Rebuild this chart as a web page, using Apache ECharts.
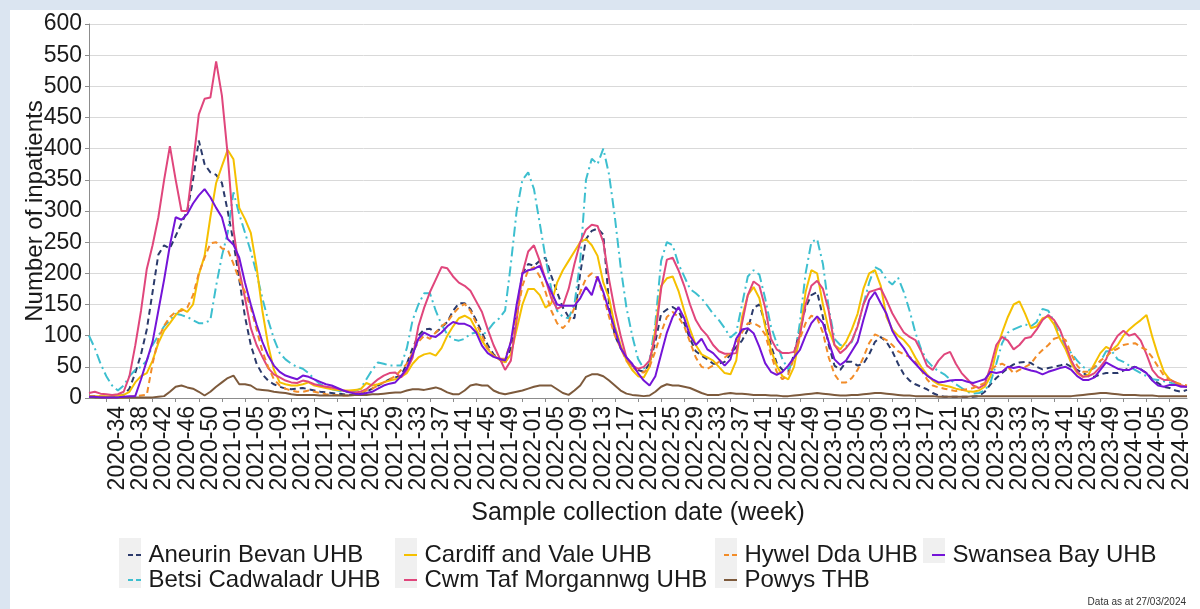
<!DOCTYPE html>
<html><head><meta charset="utf-8">
<script src="https://cdn.jsdelivr.net/npm/echarts@6/dist/echarts.min.js"></script>
<style>
html,body{margin:0;padding:0;background:#dbe5f1;width:1200px;height:609px;overflow:hidden}
#c{position:absolute;left:10px;top:10px;width:1190px;height:599px;background:#fff}
</style>
</head><body><div id="c"></div>
<script>
// ISO week categories: 2020-31 .. 2024-12
const weekRanges = [[2020,31,53],[2021,1,52],[2022,1,52],[2023,1,52],[2024,1,12]];
const weeks = [];
weekRanges.forEach(([y,a,b]) => { for (let w = a; w <= b; w++) weeks.push(y + '-' + String(w).padStart(2,'0')); });
const firstLabelIndex = 3;   // 2020-34
const labelEvery = 4;

const seriesNames = ['Aneurin Bevan UHB','Betsi Cadwaladr UHB','Cardiff and Vale UHB','Cwm Taf Morgannwg UHB','Hywel Dda UHB','Powys THB','Swansea Bay UHB'];

const aneurinBevan = [
 3,3,2,2,2,3,5,15,40,70,
 110,170,230,245,240,260,280,300,350,413,
 375,362,358,345,300,250,190,130,85,55,
 38,28,22,18,15,14,15,16,14,12,
 10,9,8,7,6,5,5,7,10,15,
 20,25,30,33,36,55,80,100,110,111,
 105,113,122,140,152,152,143,125,105,85,
 70,62,55,80,140,200,215,212,220,225,
 196,170,145,130,128,200,255,268,272,262,
 150,100,80,65,52,45,42,55,90,135,
 142,146,140,120,95,75,68,62,55,55,
 58,70,82,92,110,145,150,120,85,56,
 45,42,70,110,145,165,170,130,85,52,
 45,58,58,52,55,70,90,98,90,75,
 55,38,28,22,18,14,8,4,2,2,
 2,2,2,2,3,10,22,32,40,48,
 54,57,58,56,50,46,48,50,52,55,
 50,45,40,35,34,38,40,40,40,44,
 48,50,46,40,30,24,18,16,12,10,13];

const betsiCadwaladr = [
 100,80,55,35,20,12,20,35,45,50,
 60,85,100,115,125,135,133,130,125,120,
 120,125,180,228,265,330,295,265,235,200,
 160,125,95,72,62,55,50,47,40,30,
 22,18,14,12,10,9,11,15,30,45,
 57,55,52,52,52,80,125,150,168,168,
 140,118,102,94,92,95,103,105,100,108,
 120,128,140,215,300,350,362,335,280,225,
 175,140,130,128,150,220,350,384,375,400,
 358,290,210,145,100,63,47,60,120,220,
 250,245,215,195,175,168,160,148,135,125,
 112,97,105,150,195,205,198,160,115,88,
 62,46,60,120,200,250,255,215,145,95,
 85,83,90,115,150,185,210,205,190,182,
 193,170,140,105,78,60,50,43,38,30,
 22,16,10,7,8,12,25,55,88,105,
 110,114,118,115,122,143,140,122,100,82,
 72,60,50,45,48,58,75,75,62,58,
 52,45,40,35,30,29,27,25,22,20,18];

const cardiffVale = [
 3,3,3,3,3,4,5,10,25,35,
 40,60,88,108,120,133,143,138,150,198,
 228,290,345,372,398,383,305,287,265,210,
 140,85,45,25,22,20,20,22,25,20,
 18,16,14,13,12,12,13,14,24,20,
 22,25,28,30,34,40,55,65,70,72,
 68,80,100,115,128,132,127,110,92,78,
 68,62,57,70,110,150,175,175,165,145,
 152,185,205,220,235,250,255,245,228,185,
 160,115,85,60,45,35,33,50,110,180,
 192,195,172,140,110,85,70,65,60,50,
 40,38,60,130,165,178,160,115,77,52,
 35,30,50,100,170,205,200,150,110,85,
 78,90,110,135,175,200,205,180,130,110,
 100,93,82,65,50,38,28,22,20,18,
 15,13,11,10,12,18,35,75,105,130,
 150,155,135,112,115,128,131,118,95,78,
 55,40,34,38,55,72,82,77,85,100,
 110,118,125,133,98,68,42,30,25,20,18];

const cwmTaf = [
 8,10,7,6,5,6,10,35,84,140,
 207,245,290,350,404,350,300,300,375,455,
 480,482,540,485,390,270,205,160,112,85,
 66,48,38,33,28,25,24,28,26,22,
 20,18,17,15,12,10,9,10,14,22,
 30,36,40,41,33,45,65,115,145,170,
 190,210,208,195,185,180,172,155,138,110,
 85,65,45,60,125,200,235,245,220,190,
 160,143,148,175,215,250,270,278,276,250,
 190,140,100,65,52,47,50,60,100,175,
 222,225,205,180,150,125,110,100,85,75,
 71,71,72,120,165,187,180,145,95,78,
 72,72,74,100,150,180,188,175,140,85,
 72,80,92,115,150,170,173,176,157,136,
 120,105,98,93,75,52,45,60,70,74,
 55,40,30,20,16,22,50,85,98,92,
 78,85,96,98,110,125,133,125,110,85,
 60,42,34,35,40,50,62,85,100,108,
 100,103,92,70,45,34,29,29,25,20,18];

const hywelDda = [
 2,2,2,1,1,1,1,2,3,4,
 5,55,95,116,130,138,140,145,165,200,
 225,248,250,240,238,215,190,170,145,110,
 75,50,30,20,15,12,10,10,12,10,
 8,6,5,5,4,4,5,8,12,15,
 20,25,30,35,45,55,73,90,100,95,
 105,115,122,135,145,151,140,120,100,80,
 68,63,63,90,130,180,205,210,195,170,
 140,120,112,122,145,170,192,200,192,165,
 130,100,80,60,50,42,41,50,75,105,
 130,138,130,115,90,65,50,47,52,58,
 65,72,88,105,120,120,115,102,70,42,
 30,38,65,95,120,132,128,105,65,38,
 25,25,32,45,65,88,102,98,93,85,
 75,70,66,58,45,30,20,17,15,13,
 11,13,14,16,20,24,45,52,55,50,
 40,45,50,55,68,77,85,95,98,93,
 70,52,42,42,50,60,66,75,79,85,
 87,88,82,77,65,50,36,30,25,22,20];

const powys = [
 2,1,1,1,1,1,1,1,1,1,
 1,1,2,3,10,18,20,17,15,10,
 4,10,18,25,32,36,22,22,20,14,
 13,12,10,9,8,6,5,5,5,5,
 4,4,4,4,4,4,5,5,5,6,
 6,7,8,9,9,12,14,14,13,15,
 17,14,9,6,6,12,20,22,20,20,
 12,8,6,8,10,12,15,18,20,20,
 20,14,8,5,12,20,34,38,38,35,
 28,20,12,7,5,4,3,4,10,18,
 22,20,20,18,16,12,8,5,5,5,
 7,8,7,7,6,5,5,5,4,4,
 3,3,4,5,6,7,8,7,6,5,
 4,4,5,5,6,7,8,8,7,6,
 5,4,4,3,3,3,3,2,2,2,
 2,2,2,3,3,3,3,3,3,3,
 3,3,3,3,3,3,3,3,3,3,
 3,4,5,6,7,8,8,7,6,5,
 5,5,4,4,4,3,3,3,3,3,3];

const swanseaBay = [
 2,2,1,1,1,1,2,3,3,30,
 60,90,140,190,245,290,286,295,312,325,
 335,322,305,290,255,246,225,185,150,118,
 90,68,52,42,36,33,30,36,34,30,
 26,22,20,16,12,9,7,6,8,10,
 15,20,23,25,35,48,70,95,105,100,
 98,105,115,122,119,119,115,105,84,72,
 66,63,60,90,150,200,205,207,212,190,
 170,150,148,148,148,160,178,165,195,170,
 140,110,80,65,55,40,28,20,35,70,
 105,130,146,128,100,85,95,78,72,62,
 52,62,95,110,112,104,82,56,42,37,
 42,52,65,77,100,120,131,120,90,62,
 53,60,75,90,125,157,170,152,135,108,
 92,80,65,55,45,36,30,25,26,28,
 29,29,26,24,27,30,42,40,42,50,
 48,50,47,44,42,38,42,45,48,50,
 45,35,29,29,33,45,57,52,47,45,
 45,50,46,40,28,20,18,21,21,18,18];

const yTicks = {min:0, max:600, step:50};
const dataNote = 'Data as at 27/03/2024';

const values = [aneurinBevan, betsiCadwaladr, cardiffVale, cwmTaf, hywelDda, powys, swanseaBay];
const colors = ['#2b3a6b','#3dbfcf','#f5c000','#e0467c','#f28c28','#7d5a3c','#7414d8'];
const dashes = [[6,4],[10,4,2,4],'solid','solid',[6,4],'solid','solid'];

const FONT = '"Liberation Sans", Arial, sans-serif';
const TXT = '#1a1a1a';
const showLabel = (i) => i >= firstLabelIndex && (i - firstLabelIndex) % labelEvery === 0;

const ICON_DASH = 'path://M0,0 H5 V2 H0 Z M8,0 H13 V2 H8 Z';
const ICON_SOLID = 'path://M0,0 H13 V2 H0 Z';

const chart = echarts.init(document.getElementById('c'), null, {renderer:'canvas'});

const legendCols = [
  {left:113, items:[0, 1]},
  {left:389, items:[2, 3]},
  {left:709, items:[4, 5]},
  {left:917, items:[6]}
];

const option = {
  animation:false,
  textStyle:{fontFamily:FONT},
  grid:{left:79, right:13, top:14, bottom:211, containLabel:false, outerBoundsMode:'none'},
  xAxis:{
    type:'category', data:weeks, boundaryGap:false,
    axisLine:{lineStyle:{color:'#8c8c8c', width:1}},
    axisTick:{show:true, length:4, interval:showLabel, lineStyle:{color:'#8c8c8c'}},
    axisLabel:{rotate:90, interval:showLabel, fontSize:23, color:TXT, margin:8, verticalAlign:'top', fontFamily:FONT},
    splitLine:{show:false},
    name:'Sample collection date (week)', nameLocation:'middle', nameGap:103, nameMoveOverlap:false,
    nameTextStyle:{fontSize:25, color:TXT, fontFamily:FONT}
  },
  yAxis:{
    type:'value', min:yTicks.min, max:yTicks.max, interval:yTicks.step,
    axisLine:{show:true, lineStyle:{color:'#8c8c8c', width:1}},
    axisTick:{show:true, length:4, lineStyle:{color:'#8c8c8c'}},
    axisLabel:{fontSize:23, color:TXT, margin:7, fontFamily:FONT},
    splitLine:{show:true, lineStyle:{color:'#d9d9d9', width:1}},
    name:'Number of inpatients', nameLocation:'middle', nameGap:42, nameMoveOverlap:false,
    nameTextStyle:{fontSize:24, color:TXT, fontFamily:FONT}
  },
  legend: legendCols.map(c => ({
    data:c.items.map(i => ({name:seriesNames[i], icon: (dashes[i] === 'solid' ? ICON_SOLID : ICON_DASH),
      itemStyle:{color:colors[i]}})),
    orient:'vertical', left:c.left, top:528,
    itemWidth:14, itemHeight:2, itemGap:1, selectedMode:false,
    textStyle:{fontSize:24, color:TXT, fontFamily:FONT, lineHeight:24, padding:[0,0,0,2]}
  })),
  graphic: legendCols.map(c => ({
    type:'rect', left:c.left - 4, top:528, z:-1,
    shape:{width:22, height:c.items.length * 25},
    style:{fill:'#f0f0f0'}
  })).concat([{
    type:'text', right:14, bottom:2,
    style:{text:dataNote, font:'10px ' + FONT, fill:'#333'}
  }]),
  series: seriesNames.map((n, i) => ({
    name:n, type:'line', data:values[i], symbol:'none', showSymbol:false,
    lineStyle:{color:colors[i], width:2, type:dashes[i]},
    itemStyle:{color:colors[i]},
    emphasis:{disabled:true}
  }))
};
chart.setOption(option);
</script></body></html>
